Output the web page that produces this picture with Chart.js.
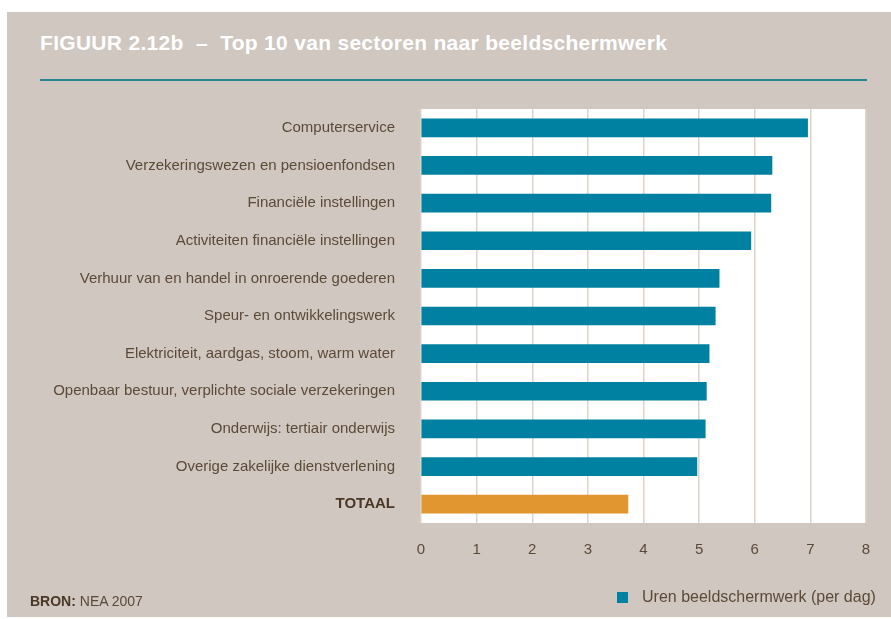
<!DOCTYPE html>
<html>
<head>
<meta charset="utf-8">
<script src="https://cdn.jsdelivr.net/npm/chart.js@4/dist/chart.umd.min.js"></script>
<style>
  html, body { margin: 0; padding: 0; background: #fff; }
  body { width: 891px; height: 619px; position: relative; overflow: hidden; font-family: 'Liberation Sans', Arial, sans-serif; }
  .panel { position: absolute; left: 7px; top: 12px; width: 884px; height: 605px; background: #d0c7c0; }
  .title { position: absolute; left: 40px; top: 31px; color: #fff; font-weight: bold; font-size: 21px; letter-spacing: 0.3px; white-space: pre; }
  .rule { position: absolute; left: 40px; top: 79px; width: 827px; height: 1.5px; background: #2a8595; }
  .source { position: absolute; left: 30px; top: 593px; color: #5b4a38; font-size: 14px; }
  .source b { color: #4a3826; }
  .legend { position: absolute; left: 617px; top: 588px; color: #5b4a38; font-size: 16px; white-space: nowrap; }
  .legend i { display: inline-block; width: 11px; height: 11px; background: #0081a1; margin-right: 14px; vertical-align: -1px; }
  #chart { position: absolute; left: 0; top: 0; }
</style>
</head>
<body>
<div class="panel"></div>
<div class="title">FIGUUR 2.12b  –  Top 10 van sectoren naar beeldschermwerk</div>
<div class="rule"></div>
<canvas id="chart" width="891" height="619"></canvas>
<div class="source"><b>BRON:</b> NEA 2007</div>
<div class="legend"><i></i>Uren beeldschermwerk (per dag)</div>
<script>
// ---------- 数据 ----------
const sectors = [
  'Computerservice',
  'Verzekeringswezen en pensioenfondsen',
  'Financiële instellingen',
  'Activiteiten financiële instellingen',
  'Verhuur van en handel in onroerende goederen',
  'Speur- en ontwikkelingswerk',
  'Elektriciteit, aardgas, stoom, warm water',
  'Openbaar bestuur, verplichte sociale verzekeringen',
  'Onderwijs: tertiair onderwijs',
  'Overige zakelijke dienstverlening',
  'TOTAAL',
];
const hours = [6.95, 6.31, 6.29, 5.93, 5.36, 5.29, 5.18, 5.13, 5.11, 4.96, 3.72];
const xTicks = [0, 1, 2, 3, 4, 5, 6, 7, 8];
const seriesName = 'Uren beeldschermwerk (per dag)';

const TEAL = '#0081a1';
const ORANGE = '#e2962f';
const TEXT = '#5b4a38';

// 白色绘图区背景
const plotBg = {
  id: 'plotBg',
  beforeDraw(chart) {
    const { ctx, chartArea: a } = chart;
    ctx.save();
    ctx.fillStyle = '#fff';
    ctx.fillRect(a.left, a.top, a.right - a.left, a.bottom - a.top);
    ctx.restore();
  }
};

new Chart(document.getElementById('chart'), {
  type: 'bar',
  data: {
    labels: sectors,
    datasets: [{
      label: seriesName,
      data: hours,
      backgroundColor: sectors.map(s => s === 'TOTAAL' ? ORANGE : TEAL),
      barThickness: 18,
      borderWidth: 0,
    }],
  },
  options: {
    indexAxis: 'y',
    responsive: false,
    animation: false,
    layout: { padding: { top: 109, right: 25, bottom: 60, left: 0 } },
    plugins: { legend: { display: false }, tooltip: { enabled: false } },
    scales: {
      x: {
        min: 0, max: 8,
        afterBuildTicks: (s) => { s.ticks = xTicks.map(v => ({ value: v })); },
        afterFit: (s) => { s.height = 36; },
        grid: { color: '#dcd3cc', lineWidth: 1.5, drawTicks: false },
        border: { display: false },
        ticks: { padding: 18, color: TEXT, font: { family: "'Liberation Sans', Arial, sans-serif", size: 15 } },
      },
      y: {
        afterFit: (s) => { s.width = 421; },
        grid: { display: false },
        border: { display: false },
        ticks: {
          padding: 18,
          color: (c) => sectors[c.index] === 'TOTAAL' ? '#4a3826' : TEXT,
          font: (c) => ({
            family: "'Liberation Sans', Arial, sans-serif",
            size: 15,
            weight: sectors[c.index] === 'TOTAAL' ? 'bold' : 'normal',
          }),
        },
      },
    },
  },
  plugins: [plotBg],
});
</script>
</body>
</html>
